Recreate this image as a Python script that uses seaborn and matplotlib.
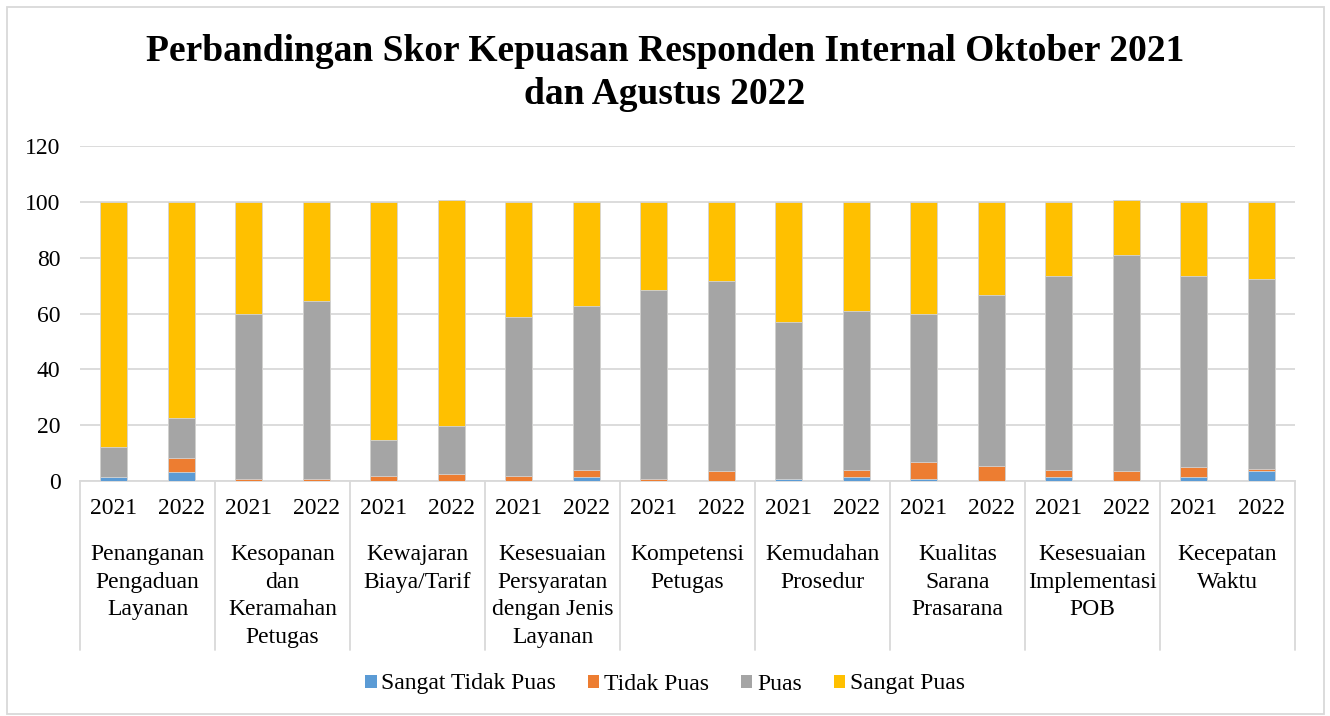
import matplotlib
matplotlib.use("Agg")
import matplotlib.pyplot as plt
import matplotlib.transforms as mtransforms
from matplotlib.patches import Patch, Rectangle
import seaborn as sns
import pandas as pd
import numpy as np

# data
categories = [
    "Penanganan\nPengaduan\nLayanan",
    "Kesopanan\ndan\nKeramahan\nPetugas",
    "Kewajaran\nBiaya/Tarif",
    "Kesesuaian\nPersyaratan\ndengan Jenis\nLayanan",
    "Kompetensi\nPetugas",
    "Kemudahan\nProsedur",
    "Kualitas\nSarana\nPrasarana",
    "Kesesuaian\nImplementasi\nPOB",
    "Kecepatan\nWaktu",
]
years = ["2021", "2022"]
series = ["Sangat Tidak Puas", "Tidak Puas", "Puas", "Sangat Puas"]
colors = ["#5b9bd5", "#ed7d31", "#a5a5a5", "#ffc000"]

# one value per bar, order: cat1-2021, cat1-2022, cat2-2021, ...
sangat_tidak_puas = [1.5, 3.3, 0.0, 0.0, 0.0, 0.0, 0.0, 1.4, 0.0, 0.0,
                     0.7, 1.4, 0.8, 0.0, 1.6, 0.0, 1.6, 3.5]
tidak_puas = [0.0, 4.8, 0.7, 0.7, 1.7, 2.5, 1.7, 2.7, 0.7, 3.5,
              0.0, 2.7, 6.1, 5.3, 2.2, 3.5, 3.3, 0.8]
puas = [10.8, 14.6, 59.3, 63.8, 12.9, 17.1, 57.0, 58.6, 67.8, 68.0,
        56.3, 56.9, 53.1, 61.2, 69.7, 77.5, 68.6, 68.0]
sangat_puas = [87.7, 77.3, 40.0, 35.5, 85.4, 81.1, 41.3, 37.3, 31.5, 28.5,
               43.0, 39.0, 40.0, 33.5, 26.5, 19.5, 26.5, 27.7]

bar_ids = [f"{c}|{y}" for c in range(len(categories)) for y in years]
df = pd.DataFrame({"bar": bar_ids, "Sangat Tidak Puas": sangat_tidak_puas,
                   "Tidak Puas": tidak_puas, "Puas": puas, "Sangat Puas": sangat_puas})
cum = df[series].cumsum(axis=1)

sns.set_style("white")
plt.rcParams["font.family"] = ["Liberation Serif", "DejaVu Serif"]
plt.rcParams["text.color"] = "black"
plt.rcParams["xtick.color"] = "black"
plt.rcParams["ytick.color"] = "black"

FS = 17

fig = plt.figure(figsize=(13.3, 7.16), dpi=100)
ax = fig.add_axes([80 / 1330, 1 - 481 / 716, 1215 / 1330, 335 / 716])

# stacked bars: draw cumulative totals from the top layer down
for s, col in reversed(list(zip(series, colors))):
    sns.barplot(x=df["bar"], y=cum[s], color=col, width=0.4, order=bar_ids,
                edgecolor="#d4d4d4", linewidth=0.6, saturation=1, ax=ax, zorder=3)

ax.set_xlim(-0.5, len(bar_ids) - 0.5)
ax.set_ylim(0, 120)
ax.set_yticks(np.arange(0, 121, 20))
ax.yaxis.grid(True, color="#d9d9d9", linewidth=1.3, zorder=0)
ax.set_axisbelow(True)
for sp in ["top", "right", "left"]:
    ax.spines[sp].set_visible(False)
ax.spines["bottom"].set_color("#d9d9d9")
ax.spines["bottom"].set_linewidth(1.3)
ax.set_xlabel("")
ax.set_ylabel("")
ax.set_xticks(range(len(bar_ids)))
ax.set_xticklabels([b.split("|")[1] for b in bar_ids])
ax.tick_params(axis="x", length=0, pad=12, labelsize=FS)
ax.tick_params(axis="y", length=0, pad=14, labelsize=FS)

trans = mtransforms.blended_transform_factory(ax.transData, ax.transAxes)
for i, cat in enumerate(categories):
    ax.text(2 * i + 0.5, -0.188, cat, transform=trans, ha="center", va="top",
            fontsize=FS, linespacing=1.41)
for i in range(len(categories) + 1):
    ax.plot([2 * i - 0.5, 2 * i - 0.5], [0, -0.505], transform=trans,
            color="#d9d9d9", linewidth=1.3, clip_on=False)

fig.text(0.5, 1 - 73 / 716,
         "Perbandingan Skor Kepuasan Responden Internal Oktober 2021\ndan Agustus 2022",
         ha="center", va="center", fontsize=27, fontweight="bold", linespacing=1.3)

handles = [Patch(facecolor=c, edgecolor="none", label=s) for s, c in zip(series, colors)]
fig.legend(handles=handles, loc="center", bbox_to_anchor=(0.5, 1 - 684 / 716), ncol=4,
           frameon=False, fontsize=FS, handlelength=0.48, handleheight=0.48,
           handletextpad=0.2, columnspacing=1.35)

fig.patches.append(Rectangle((7 / 1330, 2 / 716), 1317 / 1330, 707 / 716,
                             transform=fig.transFigure, fill=False,
                             edgecolor="#d9d9d9", linewidth=1.3))

fig.savefig("out.png", dpi=100, facecolor="white")
